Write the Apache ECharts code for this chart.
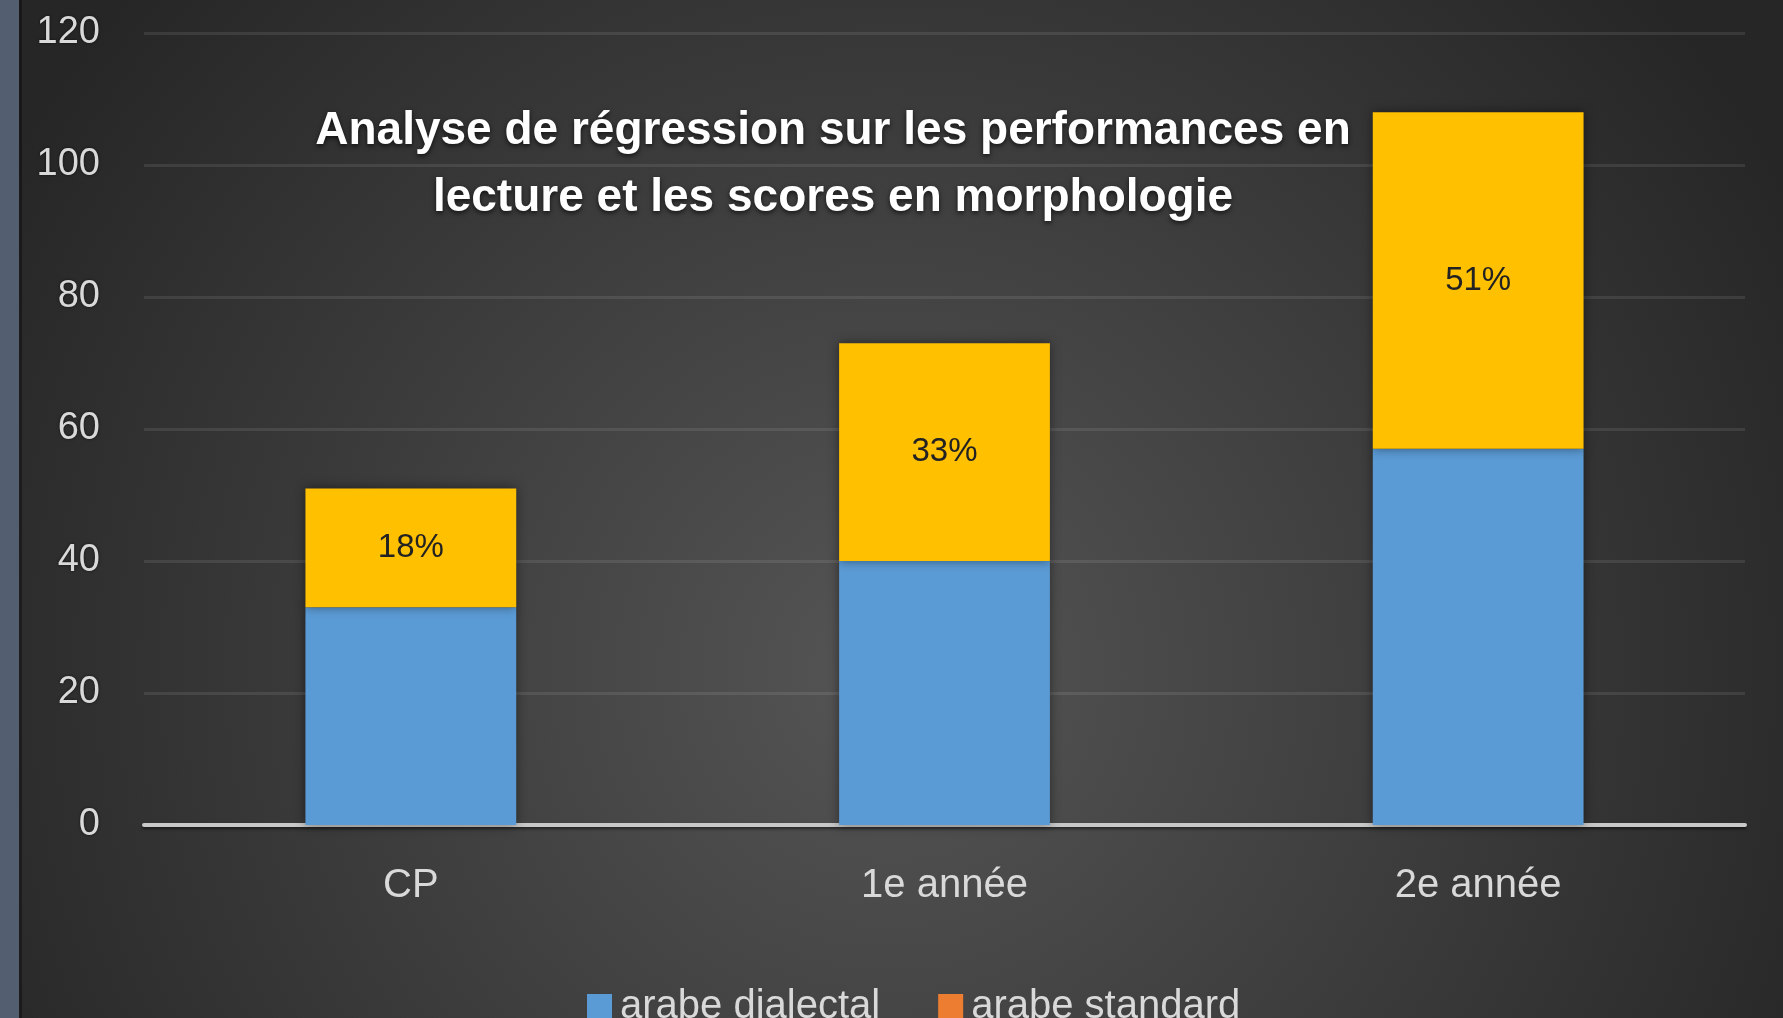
<!DOCTYPE html>
<html>
<head>
<meta charset="utf-8">
<style>
html,body{margin:0;padding:0;background:#2a2a2a;}
#chart{width:1783px;height:1018px;}
</style>
<script src="https://cdn.jsdelivr.net/npm/echarts@6/dist/echarts.min.js"></script>
</head>
<body>
<div id="chart"></div>
<script>
const categories = ['CP', '1e année', '2e année'];
const dialectal = [33, 40, 57];
const standard = [18, 33, 51];
const seriesNames = ['arabe dialectal', 'arabe standard'];
const yTicks = {min: 0, max: 120, interval: 20};
const titleText = 'Analyse de régression sur les performances en\nlecture et les scores en morphologie';

const chart = echarts.init(document.getElementById('chart'));
const font = '"Liberation Sans", Arial, sans-serif';
const option = {
  backgroundColor: {
    type: 'radial', x: 0.5, y: 0.66, r: 1.0,
    colorStops: [{offset: 0, color: '#555555'}, {offset: 1, color: '#262626'}]
  },
  animation: false,
  graphic: [{
    type: 'rect', left: 0, top: 0, z: 100,
    shape: {width: 19, height: 1018},
    style: {fill: '#535f70'}
  }, {
    type: 'rect', left: 19, top: 0, z: 100,
    shape: {width: 3, height: 1018},
    style: {fill: 'rgba(0,0,0,0.35)'}
  }],
  title: {
    text: titleText,
    left: 828, top: 93, textAlign: 'center',
    textStyle: {
      fontFamily: font, fontWeight: 'bold', fontSize: 46, color: '#ffffff',
      lineHeight: 67,
      textShadowColor: 'rgba(0,0,0,0.7)', textShadowBlur: 5, textShadowOffsetY: 2
    }
  },
  legend: {
    data: [
      {name: seriesNames[0], itemStyle: {color: '#5B9BD5'}},
      {name: seriesNames[1], itemStyle: {color: '#ED7D31'}}
    ],
    icon: 'rect',
    left: 582, top: 982,
    itemWidth: 25, itemHeight: 26, itemGap: 58,
    textStyle: {fontFamily: font, fontSize: 40, color: '#d9d9d9', padding: [0, 0, 0, 3]}
  },
  grid: {left: 144, right: 38, top: 33, bottom: 193},
  xAxis: {
    type: 'category', data: categories,
    axisLine: {lineStyle: {color: '#c8c8c8', width: 4, shadowColor: 'rgba(0,0,0,0.5)', shadowBlur: 3, shadowOffsetY: 2}},
    axisTick: {show: false},
    axisLabel: {fontFamily: font, fontSize: 40, color: '#d9d9d9', margin: 41}
  },
  yAxis: {
    type: 'value', min: yTicks.min, max: yTicks.max, interval: yTicks.interval,
    axisLine: {show: false}, axisTick: {show: false},
    axisLabel: {fontFamily: font, fontSize: 38, color: '#d9d9d9', margin: 44,
      textShadowColor: 'rgba(0,0,0,0.6)', textShadowBlur: 3},
    splitLine: {lineStyle: {color: 'rgba(255,255,255,0.09)', width: 3}}
  },
  series: [{
    name: seriesNames[0], type: 'bar', stack: 'total', data: dialectal,
    barWidth: '39.5%',
    itemStyle: {color: '#5B9BD5', shadowColor: 'rgba(0,0,0,0.45)', shadowBlur: 10},
  }, {
    name: seriesNames[1], type: 'bar', stack: 'total', data: standard,
    barWidth: '39.5%',
    itemStyle: {color: '#FFC000', shadowColor: 'rgba(0,0,0,0.45)', shadowBlur: 10},
    label: {show: true, position: 'inside', formatter: '{c}%', fontFamily: font,
      fontSize: 33, color: '#222222'}
  }]
};
chart.setOption(option);
</script>
</body>
</html>
